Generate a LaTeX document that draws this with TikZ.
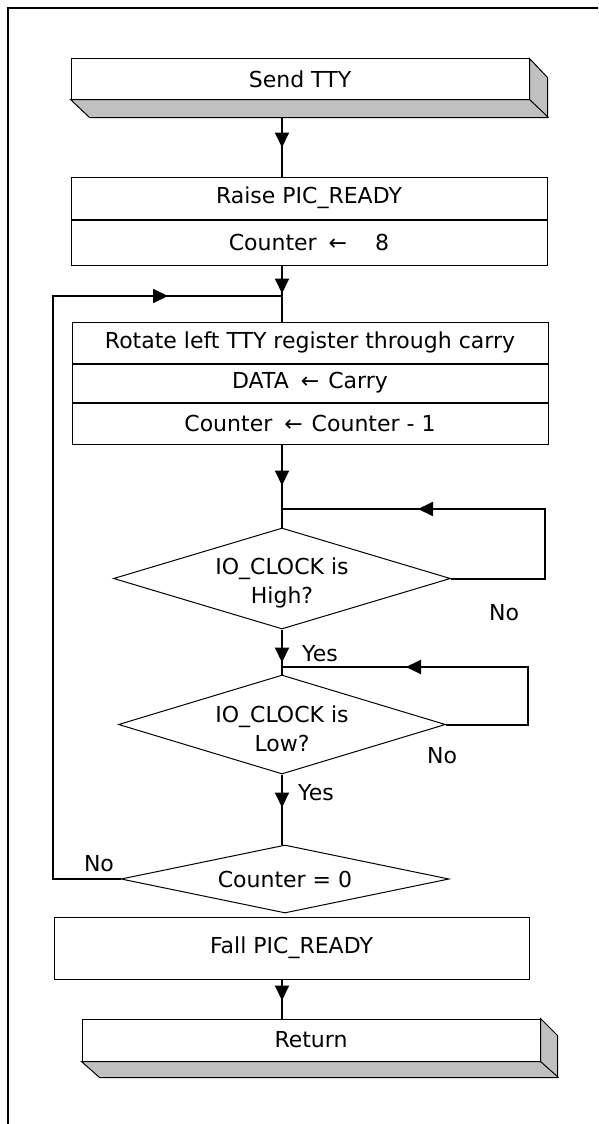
\documentclass[tikz,border=0pt]{standalone}
\usepackage{fontspec}
\setmainfont{DejaVu Sans}
\usetikzlibrary{shapes.geometric,arrows.meta,decorations.markings}

\definecolor{shadegray}{HTML}{C0C0C0}

\begin{document}
\begin{tikzpicture}[x=1pt,y=-1pt,
  font=\fontsize{22}{29}\selectfont,
  procbox/.style={draw,line width=1pt,rectangle,inner sep=0pt,fill=white},
  decision/.style={draw,line width=1pt,diamond,inner sep=0pt},
  flow/.style={line width=2pt},
  tipat/.style={postaction={decorate},decoration={markings,
      mark=at position #1 with {\arrow{Triangle[length=15pt,width=14pt]}}}},
  lbl/.style={inner sep=0pt},
  solid3d/.style={fill=shadegray,draw,line width=1pt,line join=miter}]

\useasboundingbox (0,0) rectangle (598,1124);

% page border
\draw[line width=1.3pt] (8,1124) -- (8,8) -- (598,8);

% junction points on the main line
\coordinate (j1) at (282,296);
\coordinate (j2) at (282,509);
\coordinate (j3) at (282,667);

% start terminator
\node[procbox,minimum width=458pt,minimum height=40pt] (send) at (300,79) {Send TTY};
\draw[solid3d] (send.south west) -- ++(19,18) -- ++(458,0) -- ++(0,-40)
  -- (send.north east) -- (send.south east) -- cycle;
\draw[line width=1pt] (send.south east) -- ++(19,18);
\coordinate (sendbot) at ([shift={(19,18)}]send.south west);

% initialisation
\node[procbox,minimum width=476pt,minimum height=42pt] (raise) at (309,198) {Raise PIC\_READY};
\node[procbox,minimum width=476pt,minimum height=45pt,anchor=north] (cnt8) at (raise.south)
  {Counter\hspace{12pt}←\hspace{28pt}8};

% bit loop body
\node[procbox,minimum width=476pt,minimum height=41pt] (rot) at (310,342.5)
  {Rotate left TTY register through carry};
\node[procbox,minimum width=476pt,minimum height=38pt,anchor=north] (data) at (rot.south)
  {DATA\hspace{12pt}←\hspace{9pt}Carry};
\node[procbox,minimum width=476pt,minimum height=41pt,anchor=north] (dec) at (data.south)
  {Counter\hspace{12pt}←\hspace{9pt}Counter - 1};

% clock handshake
\node[decision,minimum width=337pt,minimum height=101pt,aspect=3.3] (d1) at (282,578.5) {};
\node[lbl,align=center] (d1txt) at ([yshift=-4pt]d1.center) {IO\_CLOCK is\\High?};
\node[decision,minimum width=327pt,minimum height=99pt,aspect=3.3] (d2) at (282,724.5) {};
\node[lbl,align=center] (d2txt) at ([yshift=-4pt]d2.center) {IO\_CLOCK is\\Low?};
\node[decision,minimum width=328pt,minimum height=68pt,aspect=4.8] (d3) at (285,879)
  {Counter = 0};

% finish
\node[procbox,minimum width=475pt,minimum height=62pt] (fall) at (291.5,948) {Fall PIC\_READY};
\node[procbox,minimum width=458pt,minimum height=42pt] (ret) at (311,1040) {Return};
\draw[solid3d] (ret.south west) -- ++(18,16) -- ++(458,0) -- ++(0,-42)
  -- (ret.north east) -- (ret.south east) -- cycle;
\draw[line width=1pt] (ret.south east) -- ++(18,16);

% main flow
\draw[flow,tipat=30pt] (sendbot -| j1) -- (raise.north -| j1);
\draw[flow,tipat=28pt] (cnt8.south -| j1) -- (j1);
\draw[flow] (j1) -- (rot.north -| j1);
\draw[flow,tipat=41pt] (dec.south -| j2) -- (j2);
\draw[flow] (j2) -- (d1.north);
\draw[flow,tipat=33pt] (d1.south) -- (j3);
\draw[flow] (j3) -- (d2.north);
\draw[flow,tipat=33pt] (d2.south) -- (d2.south |- d3.north);
\draw[flow,tipat=21pt] (fall.south -| j1) -- (ret.north -| j1);

% wait loops
\coordinate (hiA) at (545,578.5);
\coordinate (hiB) at (545,509);
\draw[flow,tipat=-136pt] (d1.east) -- (hiA) -- (hiB) -- (j2);
\coordinate (loA) at (528,724.5);
\coordinate (loB) at (528,667);
\draw[flow,tipat=-124pt] (d2.east) -- (loA) -- (loB) -- (j3);

% repeat for the next bit
\coordinate (rpA) at (53,879);
\coordinate (rpB) at (53,296);
\draw[flow,tipat=-114pt] (d3.west) -- (rpA) -- (rpB) -- (j1);

% branch labels
\node[lbl] (noHi) at (504,613) {No};
\node[lbl] (yesHi) at (320,654) {Yes};
\node[lbl] (noLo) at (442,756) {No};
\node[lbl] (yesLo) at (316,793) {Yes};
\node[lbl] (noCnt) at (99,864) {No};
\end{tikzpicture}
\end{document}
